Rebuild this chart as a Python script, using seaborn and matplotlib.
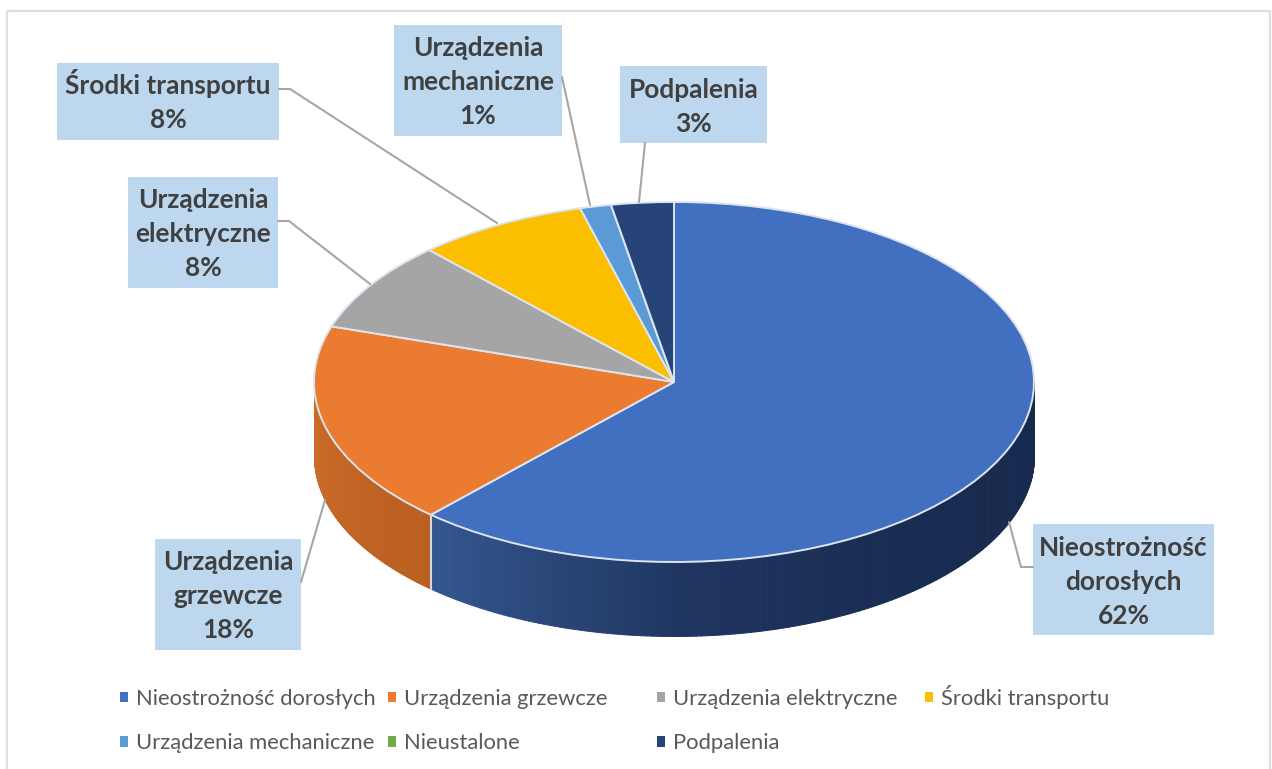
import numpy as np
import matplotlib
matplotlib.use('Agg')
import matplotlib.pyplot as plt
from matplotlib.patches import Rectangle
import seaborn as sns

categories = ['Nieostrożność dorosłych', 'Urządzenia grzewcze', 'Urządzenia elektryczne', 'Środki transportu',
              'Urządzenia mechaniczne', 'Nieustalone', 'Podpalenia']
values = [61.8, 18.2, 8.1, 7.7, 1.4, 0.0, 2.8]
colors = ['#4270C0', '#EA7B30', '#A5A5A5', '#FCBF00', '#5B9BD5', '#70AD47', '#264478']

# top of the wall gradient, from the right end of a wedge to its left end
wall_colors = {0: ['#172A4E', '#182B50', '#1F3560', '#34578F'], 1: ['#BA5F20', '#CC6C2A']}

sns.set_theme(style='white')
plt.rcParams['font.family'] = ['Lato', 'DejaVu Sans']

W, H = 1272, 769
fig = plt.figure(figsize=(W / 100, H / 100), dpi=100, facecolor='white')

# pie is a unit circle squashed to 360x180 px around (674, 382)
cx, cy, rx, ry = 674, 382, 360, 180
depth = 74 / ry
ax = fig.add_axes([0, 0, 1, 1])

share = np.array(values) / sum(values)
ends = np.cumsum(share)
starts = ends - share

# side wall, only the front half of the disc shows
for i in wall_colors:
    a, b = max(starts[i], 0.25), min(ends[i], 0.75)
    n = 150
    ts = np.linspace(a, b, n + 1) * 2 * np.pi
    pal = sns.blend_palette(wall_colors[i], n)
    for j in range(n):
        t = ts[j:j + 2]
        ax.fill_between(np.sin(t), np.cos(t), np.cos(t) - depth, color=pal[j], lw=0.7)

cut = ends[0] * 2 * np.pi
ax.plot([np.sin(cut)] * 2, [np.cos(cut), np.cos(cut) - depth], color='#D5DAE2', lw=1.5)

wedges, _ = ax.pie(values, colors=colors, startangle=90, counterclock=False, radius=1,
                   wedgeprops={'edgecolor': '#DDE4F0', 'linewidth': 1.4})
ax.set_aspect('auto')
ax.set_xlim(-cx / rx, (W - cx) / rx)
ax.set_ylim((cy - H) / ry, cy / ry)

# overlay in pixel coordinates for frame, labels and legend
ov = fig.add_axes([0, 0, 1, 1], zorder=5)
ov.set_xlim(0, W)
ov.set_ylim(H, 0)
ov.axis('off')
ov.add_patch(Rectangle((7, 11), W - 9, H, fill=False, edgecolor='#DEDEDE', lw=1.6))

label_lines = {0: ['Nieostrożność', 'dorosłych'], 1: ['Urządzenia', 'grzewcze'], 2: ['Urządzenia', 'elektryczne'],
               3: ['Środki transportu'], 4: ['Urządzenia', 'mechaniczne'], 6: ['Podpalenia']}
boxes = {0: (1033, 524, 1214, 635), 1: (155, 539, 301, 650), 2: (128, 177, 278, 288),
         3: (57, 63, 279, 140), 4: (394, 25, 562, 136), 6: (620, 66, 767, 143)}
leaders = {0: [(1033, 567), (1021, 567), (1009, 522)], 1: [(301, 582), (325, 500)],
           2: [(278, 221), (289, 221), (370, 284)], 3: [(279, 89), (290, 89), (497, 223)],
           4: [(562, 77), (590, 205)], 6: [(645, 143), (639, 202)]}

for i, box in boxes.items():
    x0, y0, x1, y1 = box
    ov.add_patch(Rectangle((x0, y0), x1 - x0, y1 - y0, facecolor='#BDD7EE', edgecolor='none'))
    txt = '\n'.join(label_lines[i] + ['%d%%' % round(values[i])])
    nudge = -1 if i == 3 else 2
    ov.text((x0 + x1) / 2, (y0 + y1) / 2 + nudge, txt, ha='center', va='center', fontsize=18.9, fontweight='bold',
            color='#404040', linespacing=1.5)
    xs, ys = zip(*leaders[i])
    ov.plot(xs, ys, color='#A6A6A6', lw=1.5, solid_joinstyle='miter')

# legend, one per column because the columns are evenly spaced
columns = [(0, 4), (1, 5), (2, 6), (3,)]
col_x = [120, 388, 657, 925]
col_y = [689, 689, 689, 685]
for x, y, col in zip(col_x, col_y, columns):
    leg = ov.legend([wedges[i] for i in col], [categories[i] for i in col], loc='upper left',
                    bbox_to_anchor=(x, y), bbox_transform=ov.transData, frameon=False, borderpad=0,
                    borderaxespad=0, fontsize=15.8, labelcolor='#595959', handlelength=0.36, handleheight=0.36,
                    handletextpad=0.37, labelspacing=1.1)
    for h in leg.legend_handles:
        h.set_edgecolor('none')
    ov.add_artist(leg)
    ov.legend_ = None  # otherwise the last one is drawn twice

fig.savefig('out.png', dpi=100)
